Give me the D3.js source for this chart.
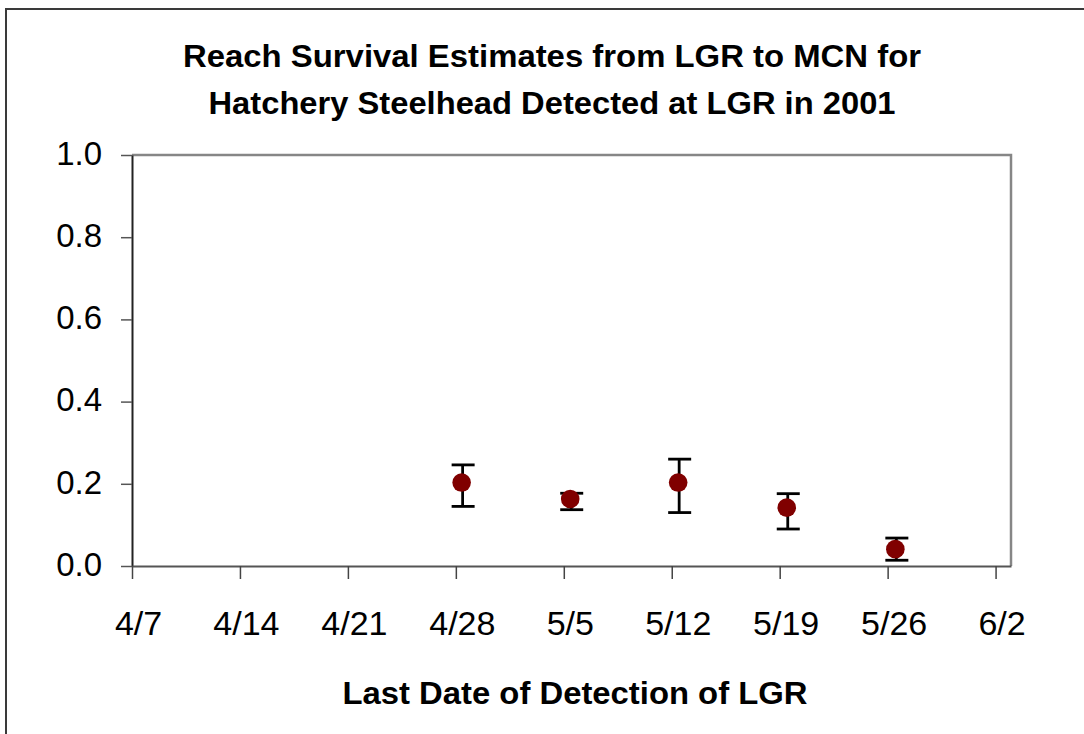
<!DOCTYPE html>
<html>
<head>
<meta charset="utf-8">
<script src="https://cdn.jsdelivr.net/npm/d3@7"></script>
<style>
  body { margin:0; background:#fff; }
  svg { display:block; font-family:"Liberation Sans", Arial, sans-serif; }
</style>
</head>
<body>
<div id="chart-area"></div>
<script>
// last date of detection at LGR (2001)
var detectDates = ["2001-04-28T09:00", "2001-05-05T10:00", "2001-05-12T10:00", "2001-05-19T11:00", "2001-05-26T12:00"];
// reach survival estimate LGR -> MCN
var survival = [0.203, 0.163, 0.203, 0.142, 0.041];
var lowerCI = [0.145, 0.137, 0.130, 0.090, 0.014];
var upperCI = [0.246, 0.177, 0.260, 0.176, 0.068];

var xTickDates = ["2001-04-07", "2001-04-14", "2001-04-21", "2001-04-28", "2001-05-05",
                  "2001-05-12", "2001-05-19", "2001-05-26", "2001-06-02"];
var yTicks = [0, 0.2, 0.4, 0.6, 0.8, 1.0];

var titleLines = ["Reach Survival Estimates from LGR to MCN for",
                  "Hatchery Steelhead Detected at LGR in 2001"];
var xLabel = "Last Date of Detection of LGR";

var parseDate = d3.isoParse;

var margin = { left:132, right:73, top:155, bottom:168 };
var W = 1084, H = 734;
var width = W - margin.left - margin.right,
    height = H - margin.top - margin.bottom;

var svg = d3.select("#chart-area")
    .append("svg")
        .attr("width", W)
        .attr("height", H);

// outer frame (runs off the right and bottom edges)
svg.append("rect")
    .attr("x", 6)
    .attr("y", 9)
    .attr("width", W + 20)
    .attr("height", H + 20)
    .attr("fill", "none")
    .attr("stroke", "#3a3a3a")
    .attr("stroke-width", 2);

// title
svg.append("g").selectAll("text")
    .data(titleLines)
    .enter().append("text")
        .attr("x", 552)
        .attr("y", function(d, i){ return 67 + i * 47; })
        .attr("text-anchor", "middle")
        .attr("font-size", "32px")
        .attr("font-weight", "bold")
        .attr("textLength", function(d, i){ return i == 0 ? 738 : 687; })
        .attr("lengthAdjust", "spacingAndGlyphs")
        .text(function(d){ return d; });

var g = svg.append("g")
    .attr("transform", "translate(" + margin.left + ", " + margin.top + ")");

var x = d3.scaleTime()
    .domain([parseDate("2001-04-07"), parseDate("2001-06-03")])
    .range([0, width]);

var y = d3.scaleLinear()
    .domain([0, 1])
    .range([height, 0]);

// plot frame: gray top & right
g.append("path")
    .attr("d", "M0,0H" + width + "V" + height)
    .attr("fill", "none")
    .attr("stroke", "#868686")
    .attr("stroke-width", 2.5);

// y axis
var yAxisGroup = g.append("g")
    .attr("class", "y-axis")
    .call(d3.axisLeft(y)
        .tickValues(yTicks)
        .tickSize(11)
        .tickSizeOuter(0)
        .tickPadding(19)
        .tickFormat(d3.format(".1f")));
yAxisGroup.select(".domain")
    .attr("stroke", "#222")
    .attr("stroke-width", 2);
yAxisGroup.selectAll(".tick line")
    .attr("stroke", "#555")
    .attr("stroke-width", 1.5);
yAxisGroup.selectAll("text")
    .attr("font-size", "33px")
    .attr("font-family", "Liberation Sans, Arial, sans-serif")
    .attr("fill", "#000")
    .attr("dy", "0.28em");

// x axis
var xAxisGroup = g.append("g")
    .attr("class", "x-axis")
    .attr("transform", "translate(0," + height + ")")
    .call(d3.axisBottom(x)
        .tickValues(xTickDates.map(parseDate))
        .tickSize(13)
        .tickSizeOuter(0)
        .tickPadding(32)
        .tickFormat(d3.timeFormat("%-m/%-d")));
xAxisGroup.select(".domain")
    .attr("stroke", "#555")
    .attr("stroke-width", 2);
xAxisGroup.selectAll(".tick line")
    .attr("stroke", "#444")
    .attr("stroke-width", 1.5);
xAxisGroup.selectAll("text")
    .attr("font-size", "34px")
    .attr("font-family", "Liberation Sans, Arial, sans-serif")
    .attr("fill", "#000")
    .attr("dx", 6);

// x label
svg.append("text")
    .attr("x", 575)
    .attr("y", 704)
    .attr("text-anchor", "middle")
    .attr("font-size", "31px")
    .attr("font-weight", "bold")
    .attr("textLength", 465)
    .attr("lengthAdjust", "spacingAndGlyphs")
    .text(xLabel);

var data = detectDates.map(function(d, i){
    return { date: parseDate(d), est: survival[i], lo: lowerCI[i], hi: upperCI[i] };
});

// error bars
var bars = g.append("g")
    .attr("stroke", "#000")
    .attr("stroke-width", 2.8)
    .selectAll("g")
    .data(data)
    .enter().append("g")
        .attr("transform", function(d){ return "translate(" + x(d.date) + ",0)"; });

bars.append("line")
    .attr("x1", 1).attr("x2", 1)
    .attr("y1", function(d){ return y(d.lo); })
    .attr("y2", function(d){ return y(d.hi); });
bars.append("line")
    .attr("x1", -10).attr("x2", 13)
    .attr("y1", function(d){ return y(d.hi); })
    .attr("y2", function(d){ return y(d.hi); });
bars.append("line")
    .attr("x1", -10).attr("x2", 13)
    .attr("y1", function(d){ return y(d.lo); })
    .attr("y2", function(d){ return y(d.lo); });

// points
g.append("g").selectAll("circle")
    .data(data)
    .enter().append("circle")
        .attr("cx", function(d){ return x(d.date); })
        .attr("cy", function(d){ return y(d.est); })
        .attr("r", 9.3)
        .attr("fill", "#800000");
</script>
</body>
</html>
